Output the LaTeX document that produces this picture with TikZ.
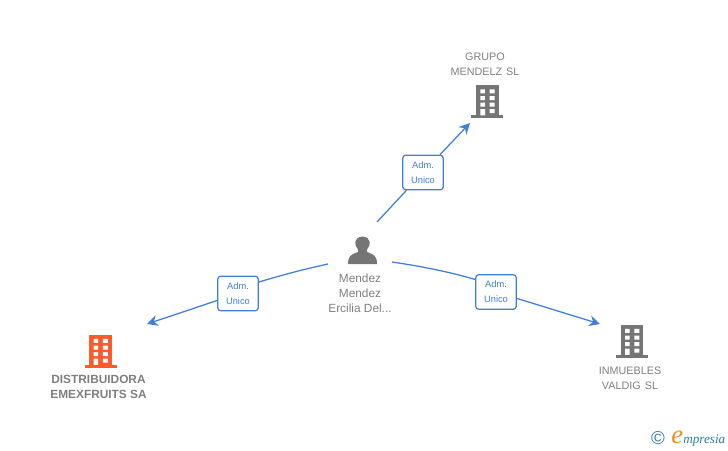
\documentclass[tikz,border=0pt]{standalone}
\usepackage{fontspec}
\setmainfont{Liberation Sans}
\newfontfamily\logofont{Liberation Serif}
\usetikzlibrary{arrows.meta}
\definecolor{linkblue}{HTML}{3F7FDB}
\definecolor{icongray}{HTML}{757575}
\definecolor{labelgray}{HTML}{7F7F7F}
\definecolor{iconorange}{HTML}{FF5A2A}
\definecolor{logoteal}{HTML}{2F7F9F}
\definecolor{logoorange}{HTML}{F58A1F}
\tikzset{
  x=0.75pt,y=-0.75pt,
  rolebox/.style={draw=linkblue,line width=0.9pt,rounded corners=2.2pt,fill=white,text=linkblue,
    minimum width=30.4pt,minimum height=25.9pt,inner sep=0pt,align=center,font=\fontsize{7pt}{11.2pt}\selectfont},
  link/.style={draw=linkblue,line width=0.95pt},
  arrowlink/.style={link,-{Stealth[length=8.2pt,width=8.2pt,inset=2.8pt]}},
  caption/.style={text=labelgray,align=center,inner sep=0pt,font=\fontsize{8.1pt}{11.25pt}\selectfont},
  personcaption/.style={caption,font=\fontsize{8.9pt}{11.25pt}\selectfont},
  boldcaption/.style={caption,font=\fontsize{8.9pt}{11.25pt}\selectfont\bfseries},
  building/.pic={
    \fill[pic actions] (-11.3,-33) rectangle (11.3,-2);
    \fill[pic actions] (-16,-2.6) rectangle (16,0);
    \fill[white] (-7,-28.7) rectangle (-2.5,-24.7) (2.3,-28.7) rectangle (7.3,-24.7)
                 (-7,-22) rectangle (-2.5,-18) (2.3,-22) rectangle (7.3,-18)
                 (-7,-15.3) rectangle (-2.5,-11.3) (2.3,-15.3) rectangle (7.3,-11.3)
                 (-7,-9) rectangle (-2.3,-2.6) (2.3,-9) rectangle (7.3,-5);
  },
}
\begin{document}
\begin{tikzpicture}
\useasboundingbox (0,0) rectangle (728,450);
% icons
\pic[fill=icongray] at (487.3,118) {building};
\pic[fill=iconorange] at (100.5,367.5) {building};
\pic[fill=icongray] at (632,357.5) {building};
% person icon
\fill[icongray] (348,264) .. controls (348,256) and (351,254.5) .. (358,252)
  -- (358,249.5) .. controls (353.5,245) and (354,237) .. (362.5,236.5)
  .. controls (371,237) and (371.5,245) .. (367,249.5)
  -- (367,252) .. controls (374,254.5) and (377,256) .. (377,264) -- cycle;
% captions
\node[caption] (grupo) at (485,64) {GRUPO\\MENDELZ\hspace{3pt}SL};
\node[boldcaption] (distri) at (98.5,387.3) {DISTRIBUIDORA\\EMEXFRUITS SA};
\node[caption] (inmu) at (630,378) {INMUEBLES\\VALDIG\hspace{3pt}SL};
\node[personcaption] (mendez) at (360,293.3) {Mendez\\Mendez\\Ercilia Del...};
% role boxes
\node[rolebox] (boxtop) at (423,172.5) {Adm.\\Unico};
\node[rolebox] (boxleft) at (238,293.5) {Adm.\\Unico};
\node[rolebox] (boxright) at (496,292) {Adm.\\Unico};
% connector ends
\coordinate (starttop) at (377,222);
\coordinate (endtop) at (470,123);
\coordinate (startleft) at (328,264);
\coordinate (endleft) at (147,324);
\coordinate (startright) at (392,262);
\coordinate (endright) at (600,324);
% connectors
\draw[link] (starttop) -- (boxtop);
\draw[arrowlink] (boxtop) -- (endtop);
\draw[link] (startleft) .. controls (305,269) and (282,275) .. ([yshift=8.6pt]boxleft.east);
\draw[arrowlink] (boxleft) -- (endleft);
\draw[link] (startright) .. controls (420,266) and (450,272) .. ([yshift=9.4pt]boxright.west);
\draw[arrowlink] (boxright) -- (endright);
% logo
\node[text=logoteal,inner sep=0pt,font=\fontsize{14pt}{14pt}\selectfont] (copy) at (658,438.5) {©};
\node[anchor=base west,inner sep=0pt,text=logoorange,font=\logofont\fontsize{20pt}{20pt}\selectfont\itshape] (logoe) at (671,443) {e};
\node[anchor=base west,inner sep=0pt,text=logoteal,font=\logofont\fontsize{9.9pt}{10pt}\selectfont\itshape] (logorest) at (683,443) {mpresia};
\end{tikzpicture}
\end{document}
